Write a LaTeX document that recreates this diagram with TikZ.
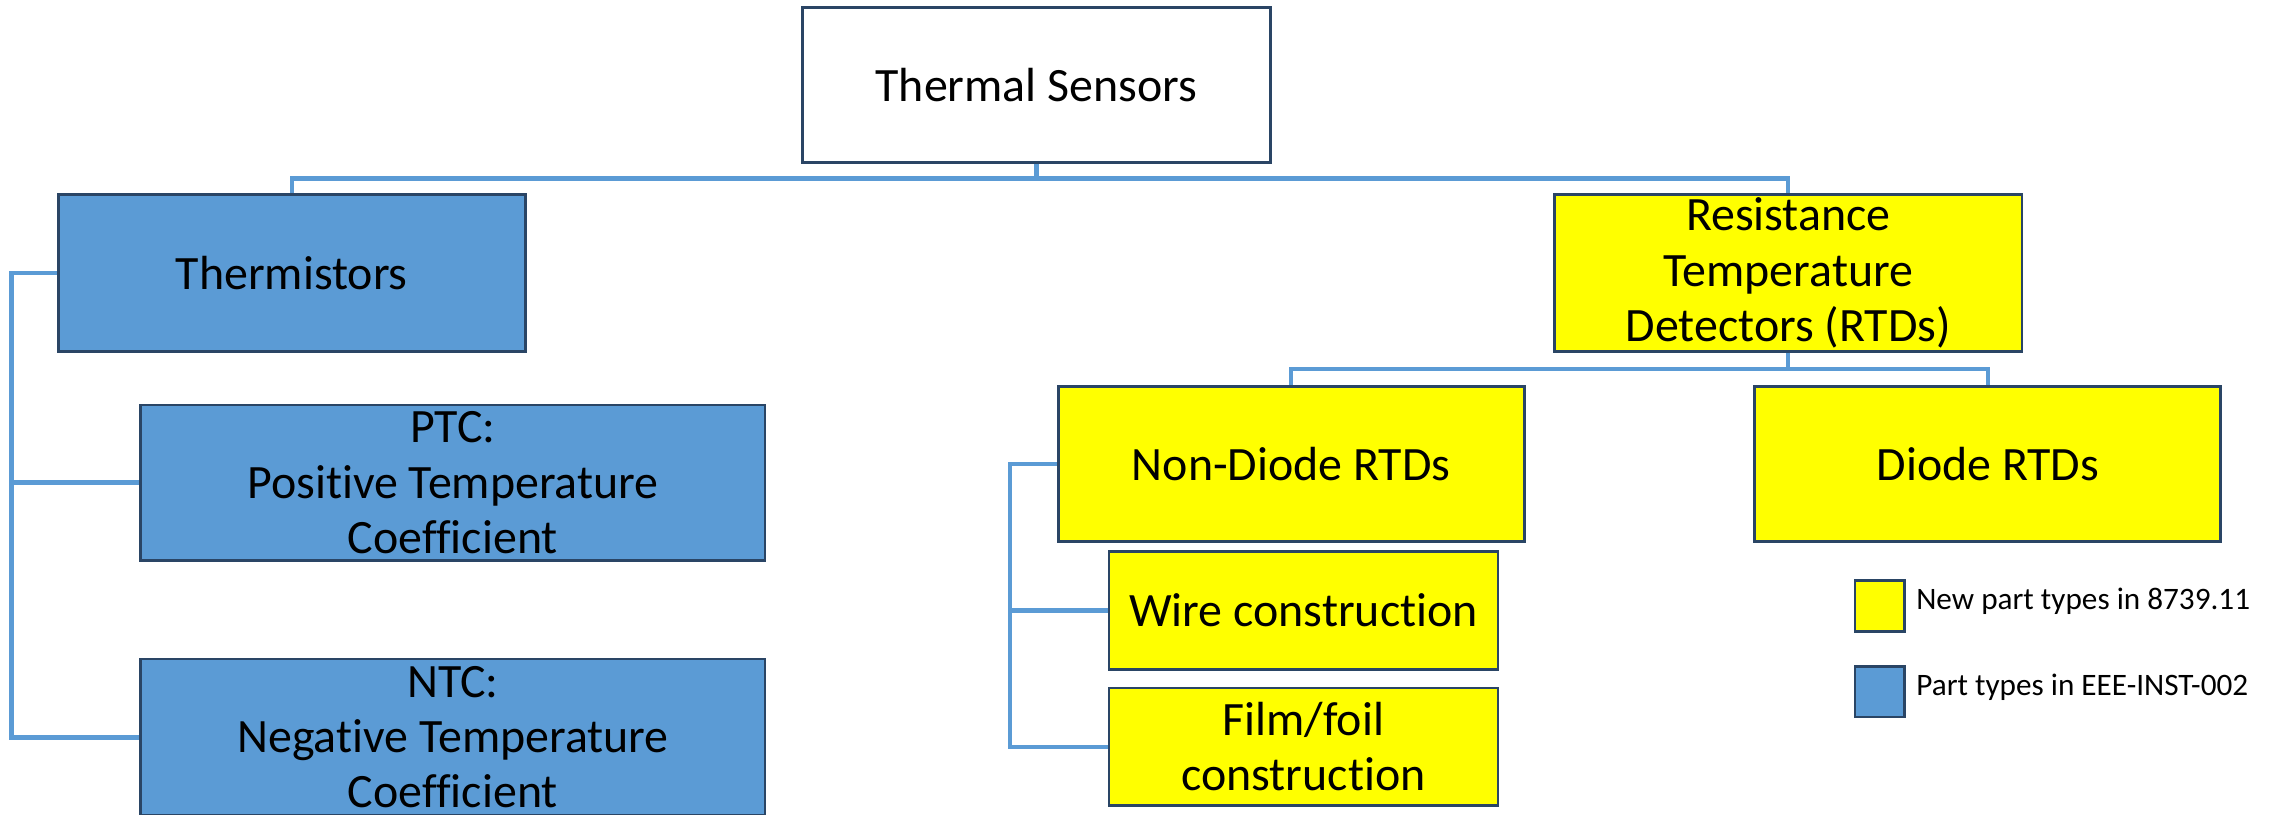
\documentclass[tikz,border=0pt]{standalone}
\usepackage{fontspec}
\setmainfont{Carlito}[Ligatures={NoCommon,NoContextual}]
\definecolor{conn}{HTML}{5B9BD5}
\definecolor{bluefill}{HTML}{5B9BD5}
\definecolor{yellowfill}{HTML}{FFFF00}
\definecolor{boxline}{HTML}{2A4565}
\begin{document}
\begin{tikzpicture}[x=1pt,y=-1pt,
  box/.style={draw=boxline, line width=2pt, inner sep=0pt, align=center,
    font=\fontsize{33}{38}\selectfont, text=black},
  bluebox/.style={box, fill=bluefill},
  yelbox/.style={box, fill=yellowfill},
  whitebox/.style={box, fill=white},
  link/.style={draw=conn, line width=3pt},
  legsq/.style={draw=boxline, line width=1.8pt, minimum width=34pt, minimum height=35pt, inner sep=0pt},
  legtext/.style={anchor=base west, inner sep=0pt, font=\fontsize{21.5}{24}\selectfont}
]
\useasboundingbox (0,0) rectangle (1568,561);

% boxes
\node[whitebox, minimum width=322pt, minimum height=107pt] (top) at (714,58.5) {Thermal Sensors};
\node[bluebox, minimum width=322pt, minimum height=108pt] (therm) at (201,188) {Thermistors};
\node[yelbox, minimum width=322pt, minimum height=108pt] (rtd) at (1232,188) {Resistance\\Temperature\\Detectors (RTDs)};
\node[bluebox, minimum width=430pt, minimum height=107pt] (ptc) at (312,332.5) {PTC:\\Positive Temperature\\Coefficient};
\node[bluebox, minimum width=430pt, minimum height=108pt] (ntc) at (312,508) {NTC:\\Negative Temperature\\Coefficient};
\node[yelbox, minimum width=321pt, minimum height=107pt] (nondiode) at (889.5,319.5) {Non-Diode RTDs};
\node[yelbox, minimum width=321pt, minimum height=107pt] (diode) at (1369.5,319.5) {Diode RTDs};
\node[yelbox, minimum width=268pt, minimum height=81pt] (wire) at (898,420.5) {Wire construction};
\node[yelbox, minimum width=268pt, minimum height=81pt] (film) at (898,514.5) {Film/foil\\construction};

% connector junctions
\coordinate (bus1) at (714,123);
\coordinate (sp1) at (8,188);
\coordinate (bus2) at (1232,254);
\coordinate (sp2) at (696,319.5);

\draw[link] (top.south) -- (bus1) -| (therm.north);
\draw[link] (bus1) -| (rtd.north);
\draw[link] (therm.west) -- (sp1) |- (ptc.west);
\draw[link] (sp1) |- (ntc.west);
\draw[link] (rtd.south) -- (bus2) -| (nondiode.north);
\draw[link] (bus2) -| (diode.north);
\draw[link] (nondiode.west) -- (sp2) |- (wire.west);
\draw[link] (sp2) |- (film.west);

% legend
\node[legsq, fill=yellowfill] (legnew) at (1295,417.5) {};
\node[legsq, fill=bluefill] (legold) at (1295,476.5) {};
\node[legtext] (legnewtext) at (1320,420) {New part types in 8739.11};
\node[legtext] (legoldtext) at (1320,479) {Part types in EEE-INST-002};
\end{tikzpicture}
\end{document}
